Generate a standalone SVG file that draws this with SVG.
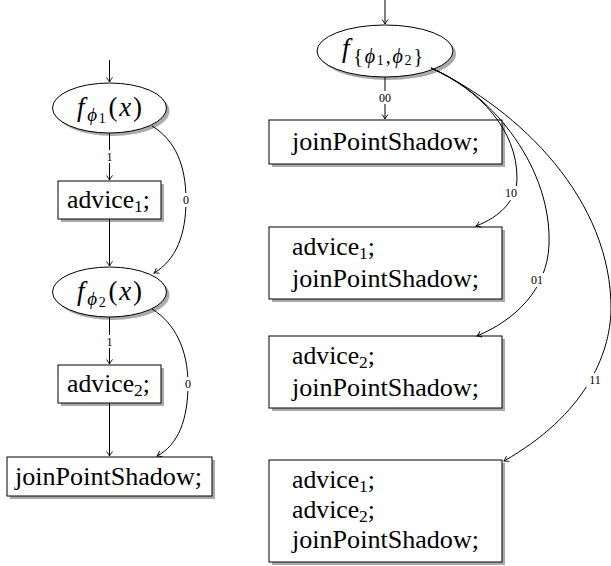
<svg xmlns="http://www.w3.org/2000/svg" width="611" height="566" viewBox="0 0 611 566">
<defs>
<marker id="arr" viewBox="-6 -5 8 10" markerWidth="8" markerHeight="10" refX="0" refY="0" orient="auto" markerUnits="userSpaceOnUse">
<path d="M-4.5,-3 Q-1.5,-0.6 0,0 Q-1.5,0.6 -4.5,3" fill="none" stroke="#000" stroke-width="0.9"/>
</marker>
</defs>
<rect width="611" height="566" fill="#fff"/>

<g id="nodes" font-family="'Liberation Serif', 'Times New Roman', serif" font-size="25">
<g id="n_f1">
<ellipse fill="#aaa" cx="112.5" cy="111" rx="57" ry="25"/>
<ellipse fill="#fff" stroke="#000" cx="109.5" cy="108" rx="57" ry="25"/>
<text x="77" y="116" font-size="27" textLength="65" lengthAdjust="spacing"><tspan font-style="italic">f</tspan><tspan font-style="italic" font-size="19" dy="5" dx="1">ϕ</tspan><tspan font-size="14" dy="2">1</tspan><tspan dy="-7" dx="1">(</tspan><tspan font-style="italic">x</tspan>)</text>
</g>
<g id="n_a1">
<rect fill="#aaa" x="61" y="184" width="103" height="38"/>
<rect fill="#fff" stroke="#000" x="58" y="181" width="103" height="38"/>
<text x="67" y="208" textLength="83" lengthAdjust="spacingAndGlyphs">advice<tspan font-size="17" dy="4">1</tspan><tspan dy="-4">;</tspan></text>
</g>
<g id="n_f2">
<ellipse fill="#aaa" cx="112.5" cy="295" rx="57" ry="25"/>
<ellipse fill="#fff" stroke="#000" cx="109.5" cy="292" rx="57" ry="25"/>
<text x="77" y="300" font-size="27" textLength="65" lengthAdjust="spacing"><tspan font-style="italic">f</tspan><tspan font-style="italic" font-size="19" dy="5" dx="1">ϕ</tspan><tspan font-size="14" dy="2">2</tspan><tspan dy="-7" dx="1">(</tspan><tspan font-style="italic">x</tspan>)</text>
</g>
<g id="n_a2">
<rect fill="#aaa" x="61" y="368" width="103" height="38"/>
<rect fill="#fff" stroke="#000" x="58" y="365" width="103" height="38"/>
<text x="67" y="392" textLength="83" lengthAdjust="spacingAndGlyphs">advice<tspan font-size="17" dy="4">2</tspan><tspan dy="-4">;</tspan></text>
</g>
<g id="n_j">
<rect fill="#aaa" x="10" y="460" width="205" height="39"/>
<rect fill="#fff" stroke="#000" x="7" y="457" width="205" height="39"/>
<text x="15" y="485" textLength="187" lengthAdjust="spacingAndGlyphs">joinPointShadow;</text>
</g>

<g id="n_f12">
<ellipse fill="#aaa" cx="388" cy="54" rx="68" ry="26"/>
<ellipse fill="#fff" stroke="#000" cx="385" cy="51" rx="68" ry="26"/>
<text x="342" y="57" font-size="27" textLength="81" lengthAdjust="spacing"><tspan font-style="italic">f</tspan><tspan font-size="20" dy="6" dx="2">{</tspan><tspan font-style="italic" font-size="20">ϕ</tspan><tspan font-size="14" dy="2">1</tspan><tspan font-size="20" dy="-2">,</tspan><tspan font-style="italic" font-size="20">ϕ</tspan><tspan font-size="14" dy="2">2</tspan><tspan font-size="20" dy="-2">}</tspan></text>
</g>
<g id="n_r00">
<rect fill="#aaa" x="272" y="123" width="233" height="44"/>
<rect fill="#fff" stroke="#000" x="269" y="120" width="233" height="44"/>
<text x="292" y="150" textLength="187" lengthAdjust="spacingAndGlyphs">joinPointShadow;</text>
</g>
<g id="n_r10">
<rect fill="#aaa" x="272" y="230" width="233" height="72"/>
<rect fill="#fff" stroke="#000" x="269" y="227" width="233" height="72"/>
<text x="292" y="255" textLength="83" lengthAdjust="spacingAndGlyphs">advice<tspan font-size="17" dy="4">1</tspan><tspan dy="-4">;</tspan></text>
<text x="292" y="287" textLength="187" lengthAdjust="spacingAndGlyphs">joinPointShadow;</text>
</g>
<g id="n_r01">
<rect fill="#aaa" x="272" y="339" width="233" height="72"/>
<rect fill="#fff" stroke="#000" x="269" y="336" width="233" height="72"/>
<text x="292" y="364" textLength="83" lengthAdjust="spacingAndGlyphs">advice<tspan font-size="17" dy="4">2</tspan><tspan dy="-4">;</tspan></text>
<text x="292" y="396" textLength="187" lengthAdjust="spacingAndGlyphs">joinPointShadow;</text>
</g>
<g id="n_r11">
<rect fill="#aaa" x="272" y="463" width="233" height="102"/>
<rect fill="#fff" stroke="#000" x="269" y="460" width="233" height="102"/>
<text x="292" y="488" textLength="83" lengthAdjust="spacingAndGlyphs">advice<tspan font-size="17" dy="4">1</tspan><tspan dy="-4">;</tspan></text>
<text x="292" y="518" textLength="83" lengthAdjust="spacingAndGlyphs">advice<tspan font-size="17" dy="4">2</tspan><tspan dy="-4">;</tspan></text>
<text x="292" y="548" textLength="187" lengthAdjust="spacingAndGlyphs">joinPointShadow;</text>
</g>
</g>

<g id="connectors" fill="none" stroke="#000" stroke-width="1">
<line x1="109.5" y1="60" x2="109.5" y2="82" marker-end="url(#arr)"/>
<line x1="109.5" y1="133" x2="109.5" y2="180" marker-end="url(#arr)"/>
<line x1="109.5" y1="219" x2="109.5" y2="266" marker-end="url(#arr)"/>
<path d="M152,126 C175,140 186,165 186,200 C186,235 176,260 154,273" marker-end="url(#arr)"/>
<line x1="109.5" y1="317" x2="109.5" y2="364" marker-end="url(#arr)"/>
<line x1="109.5" y1="403" x2="109.5" y2="456" marker-end="url(#arr)"/>
<path d="M152,309 C175,323 188,350 188,384 C188,420 178,445 157,456" marker-end="url(#arr)"/>
<line x1="385" y1="0" x2="385" y2="24" marker-end="url(#arr)"/>
<line x1="385" y1="77" x2="385" y2="119" marker-end="url(#arr)"/>
<path d="M431,68 C480,90 517,130 517,178 C517,200 500,217 476,226" marker-end="url(#arr)"/>
<path d="M431,68 C495,95 552,170 549,245 C547,290 515,320 477,336" marker-end="url(#arr)"/>
<path d="M431,68 C520,110 612,200 611,310 C610,355 585,415 504,461" marker-end="url(#arr)"/>
<g fill="#fff" stroke="none">
<rect x="104" y="150" width="11" height="13"/>
<rect x="181" y="193" width="11" height="14"/>
<rect x="104" y="335" width="11" height="13"/>
<rect x="183" y="377" width="11" height="14"/>
<rect x="376" y="91" width="18" height="13"/>
<rect x="502" y="186" width="18" height="14"/>
<rect x="528" y="273" width="18" height="14"/>
<rect x="586" y="373" width="18" height="14"/>
</g>
<g fill="#000" stroke="none" font-family="'Liberation Serif', 'Times New Roman', serif" font-size="12" text-anchor="middle">
<text x="109.5" y="161">1</text>
<text x="186" y="204">0</text>
<text x="109.5" y="346">1</text>
<text x="188" y="388">0</text>
<text x="385" y="102">00</text>
<text x="511" y="197">10</text>
<text x="537" y="284">01</text>
<text x="595" y="384">11</text>
</g>
</g>
</svg>
